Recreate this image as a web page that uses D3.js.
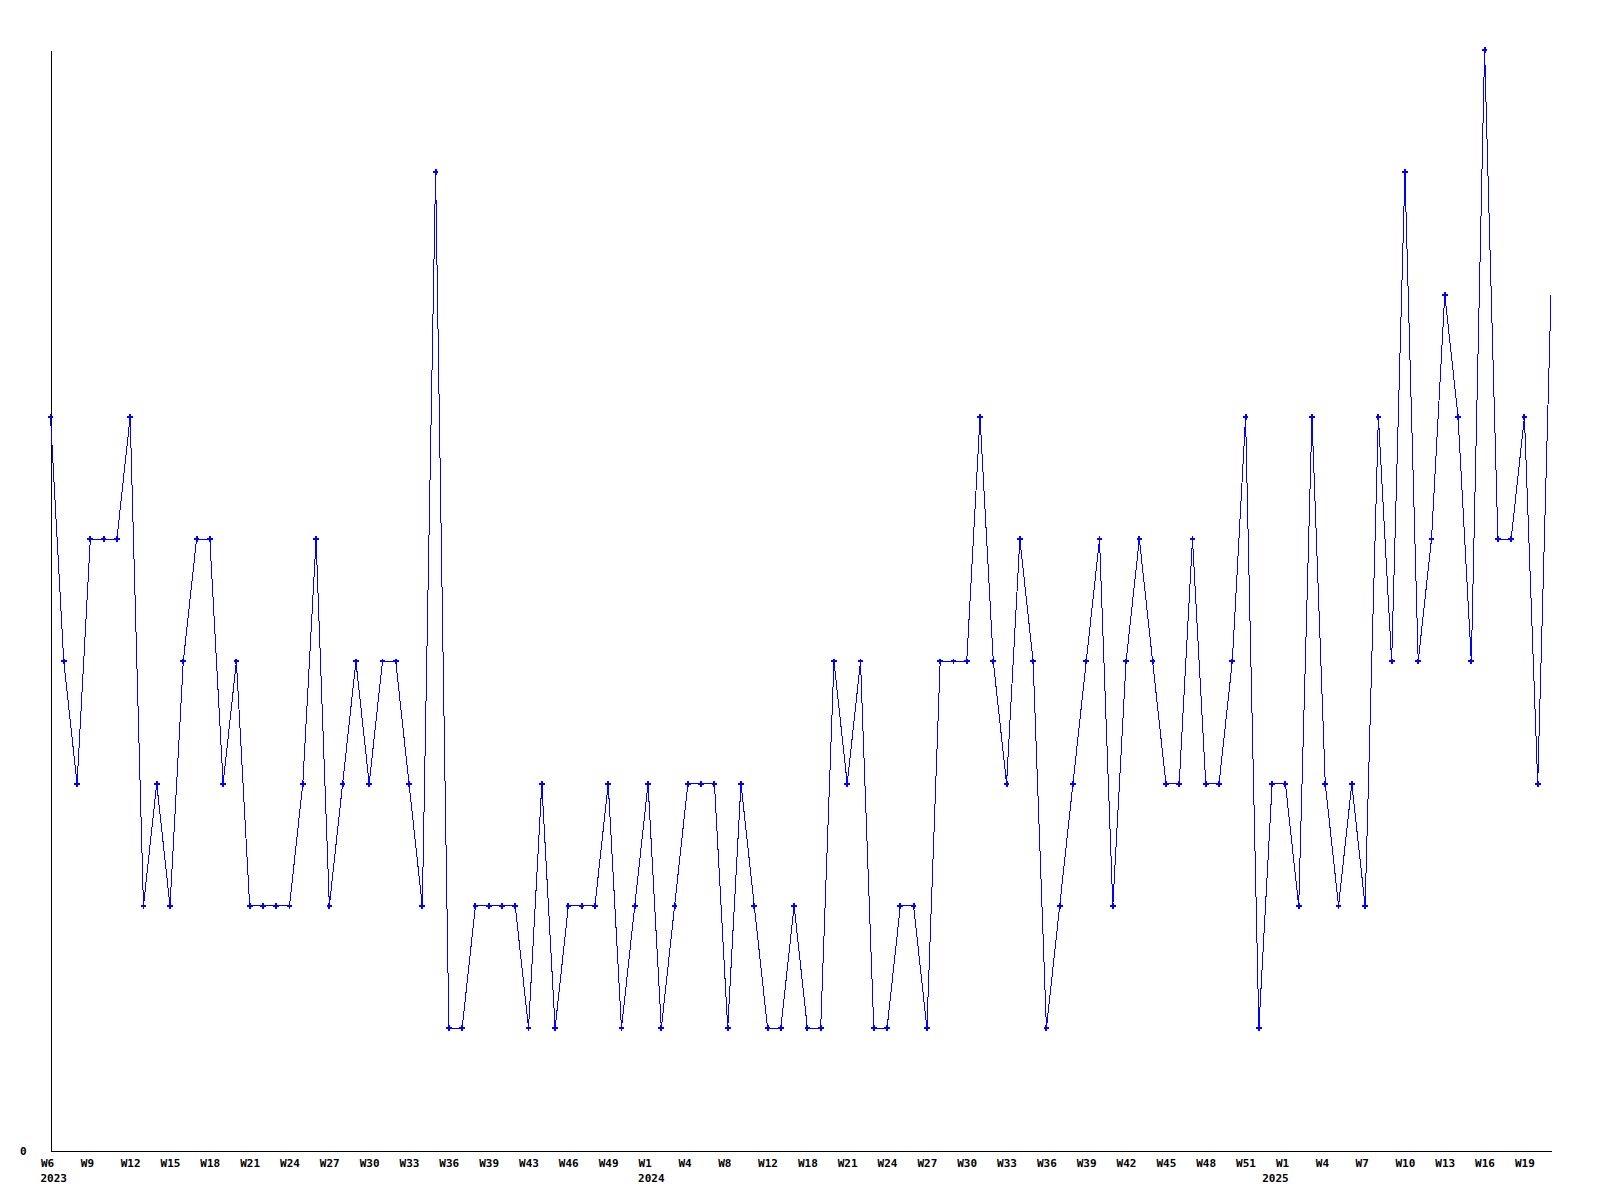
<!DOCTYPE html>
<html>
<head>
<meta charset="utf-8">
<script src="https://cdn.jsdelivr.net/npm/d3@7"></script>
<style>
  html, body { margin: 0; padding: 0; background: #fff; }
  svg { display: block; }
  text { font-family: "DejaVu Sans Mono", "Liberation Mono", monospace; font-weight: bold; font-size: 11px; fill: #000; }
</style>
</head>
<body>
<svg id="chart" width="1600" height="1200"></svg>
<script>
// ---- data ----
const weeks2023 = ["W6","W7","W8","W9","W10","W11","W12","W13","W14","W15","W16","W17","W18","W19","W20","W21","W22","W23","W24","W25","W26","W27","W28","W29","W30","W31","W32","W33","W34","W35","W36","W37","W38","W39","W40","W41","W43","W44","W45","W46","W47","W48","W49","W50","W51"];
const values2023 = [6,4,3,5,5,5,6,2,3,2, 4,5,5,3,4,2,2,2,2,3, 5,2,3,4,3,4,4,3,2,8, 1,1,2,2,2,2,1,3,1,2, 2,2,3,1,2];
const weeks2024 = ["W1","W2","W3","W4","W5","W6","W8","W9","W10","W12","W13","W14","W18","W19","W20","W21","W22","W23","W24","W25","W26","W27","W28","W29","W30","W31","W32","W33","W34","W35","W36","W37","W38","W39","W40","W41","W42","W43","W44","W45","W46","W47","W48","W49","W50","W51","W52","W53"];
const values2024 = [3,1,2,3,3,3,1,3,2,1, 1,2,1,1,4,3,4,1,1,2, 2,1,4,4,4,6,4,3,5,4, 1,2,3,4,5,2,4,5,4,3, 3,5,3,3,4,6,1,3];
const weeks2025 = ["W1","W2","W3","W4","W5","W6","W7","W8","W9","W10","W11","W12","W13","W14","W15","W16","W17","W18","W19","W20","W21"];
const values2025 = [3,2,6,3,2,3,2,6,4,8, 4,5,7,6,4,9,5,5,6,3, 7];
const years = ["2023","2024","2025"];
// week at which each year label is printed (the 2025 label sits under the week spanning New Year)
const yearLabelWeeks = ["2023-W6","2024-W1","2024-W53"];
const yTickValues = [0];
const labelEvery = 3;

// ---- build rows ----
const rows = [];
[[weeks2023, values2023], [weeks2024, values2024], [weeks2025, values2025]].forEach(([wk, vals], yi) => {
  wk.forEach((w, i) => rows.push({ key: years[yi] + "-" + w, week: w, value: vals[i] }));
});

const svg = d3.select("#chart");
const x = d3.scalePoint().domain(rows.map(d => d.key)).range([50.5, 1551]);
const y = d3.scaleLinear().domain([0, 9]).range([1150.5, 50]);

// axes
const tickKeys = rows.filter((d, i) => i % labelEvery === 0).map(d => d.key);
const byKey = new Map(rows.map(d => [d.key, d]));

const xAxis = svg.append("g").attr("transform", `translate(0,${y(0)})`)
  .call(d3.axisBottom(x).tickValues(tickKeys).tickSize(0).tickSizeOuter(0).tickPadding(0)
    .tickFormat(k => byKey.get(k).week));
xAxis.select(".domain").attr("stroke", "#000").attr("stroke-width", 1).attr("shape-rendering", "crispEdges");
xAxis.selectAll(".tick text")
  .attr("text-anchor", "start").attr("dx", -10).attr("dy", null).attr("y", 16);
xAxis.attr("font-family", null).attr("font-size", null);

// year labels under the axis
xAxis.append("g").selectAll("text").data(years).join("text")
  .attr("text-anchor", "start")
  .attr("x", (yr, i) => x(yearLabelWeeks[i]) - 10)
  .attr("y", 31)
  .text(yr => yr);

const yAxis = svg.append("g").attr("transform", `translate(${x(rows[0].key)},0)`)
  .call(d3.axisLeft(y).tickValues(yTickValues).tickSize(0).tickSizeOuter(0).tickPadding(24).tickFormat(d3.format("d")));
yAxis.select(".domain").attr("stroke", "#000").attr("stroke-width", 1).attr("shape-rendering", "crispEdges");
yAxis.selectAll(".tick text").attr("dy", "0.35em");
yAxis.attr("font-family", null).attr("font-size", null);

// line
const line = d3.line().x(d => x(d.key)).y(d => y(d.value));
svg.append("path").datum(rows)
  .attr("fill", "none").attr("stroke", "#0000ff").attr("stroke-width", 1)
  .attr("shape-rendering", "crispEdges")
  .attr("d", line);

// markers (last point sits on the plot edge, no marker drawn)
const sym = d3.symbol().type(d3.symbolCross).size(18);
svg.append("g").selectAll("path").data(rows.slice(0, rows.length - 1)).join("path")
  .attr("transform", d => `translate(${x(d.key)},${y(d.value)})`)
  .attr("d", sym).attr("fill", "#0000ff").attr("shape-rendering", "crispEdges");
</script>
</body>
</html>
